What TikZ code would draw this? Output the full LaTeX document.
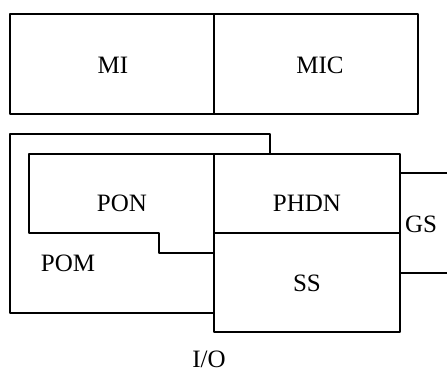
\documentclass[tikz,border=0pt]{standalone}
\usepackage{fontspec}
\setmainfont{Liberation Serif}
\begin{document}
\begin{tikzpicture}[x=0.5pt,y=-0.5pt, line width=0.9pt, line join=round, line cap=round, font=\fontsize{12.5}{14}\selectfont]
	\useasboundingbox (0,0) rectangle (447,370);
	% top row
	\draw (10,14) rectangle (418,114);
	\draw (214,14)--(214,114);
	\node (mi) at (113,65) {MI};
	\node (mic) at (320,65) {MIC};
	% lower block
	\draw (214,313)--(10,313)--(10,134)--(270,134)--(270,154);
	\draw (214,253)--(159,253)--(159,233)--(29,233)--(29,154)--(214,154);
	\draw (214,154) rectangle (400,332);
	\draw (214,233)--(400,233);
	\draw (400,173)--(447,173);
	\draw (400,273)--(447,273);
	\node (pon) at (122,203) {PON};
	\node (phdn) at (307,203) {PHDN};
	\node (pom) at (68,263) {POM};
	\node (ss) at (307,283) {SS};
	\node (gs) at (421,224) {GS};
	\node (io) at (209,359) {I/O};
\end{tikzpicture}
\end{document}
